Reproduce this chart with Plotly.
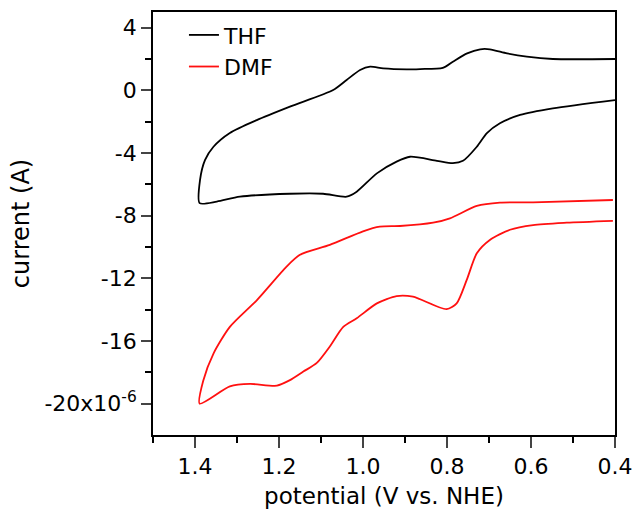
import plotly.graph_objects as go

# THF (black) - potential (V vs NHE), current (uA)
thf_x = [0.40, 0.548, 0.61, 0.657, 0.698, 0.721, 0.752, 0.786, 0.81, 0.864, 0.896, 0.952, 0.983, 1.007, 1.039, 1.071,
         1.174, 1.253, 1.317, 1.356, 1.376, 1.388, 1.389,
         1.348, 1.293, 1.174, 1.095, 1.039, 1.015, 0.967, 0.92, 0.888, 0.824, 0.786, 0.762, 0.729, 0.705, 0.674, 0.626, 0.548, 0.40]
thf_y = [2.0, 2.0, 2.15, 2.36, 2.62, 2.62, 2.36, 1.83, 1.43, 1.36, 1.34, 1.4, 1.51, 1.3, 0.66, 0.02,
         -1.04, -1.9, -2.72, -3.6, -4.44, -5.72, -7.2,
         -7.1, -6.79, -6.6, -6.6, -6.79, -6.47, -5.3, -4.55, -4.24, -4.5, -4.65, -4.5, -3.6, -2.73, -2.1, -1.57, -1.15, -0.62]

# DMF (red)
dmf_x = [0.405, 0.595, 0.674, 0.729, 0.793, 0.833, 0.912, 0.96, 1.0, 1.079, 1.15, 1.182, 1.253, 1.317, 1.356, 1.38, 1.389,
         1.317, 1.269, 1.205, 1.174, 1.142, 1.11, 1.079, 1.047, 1.015, 0.967, 0.92, 0.881, 0.801, 0.777, 0.753, 0.729, 0.698, 0.65, 0.595, 0.515, 0.405]
dmf_y = [-7.0, -7.15, -7.17, -7.38, -8.17, -8.45, -8.66, -8.7, -9.0, -9.87, -10.5, -11.25, -13.4, -15.1, -16.8, -18.5, -20.0,
         -18.9, -18.74, -18.85, -18.5, -17.95, -17.4, -16.35, -15.1, -14.55, -13.6, -13.13, -13.17, -13.97, -13.6, -12.1, -10.4, -9.55, -8.9, -8.6, -8.45, -8.33]

y_tickvals = [4, 0, -4, -8, -12, -16, -20]
y_ticktext = ["4", "0", "-4", "-8", "-12", "-16", "-20x10<sup>-6</sup>"]
x_tickvals = [1.4, 1.2, 1.0, 0.8, 0.6, 0.4]
x_ticktext = ["1.4", "1.2", "1.0", "0.8", "0.6", "0.4"]

FONT = "DejaVu Sans"

fig = go.Figure()
fig.add_trace(go.Scatter(x=thf_x, y=thf_y, mode="lines", name="THF", legendgroup="a",
                         line=dict(color="black", width=1.8, shape="spline", smoothing=0.7)))
fig.add_trace(go.Scatter(x=dmf_x, y=dmf_y, mode="lines", name="DMF", legendgroup="b",
                         line=dict(color="#ff1010", width=1.8, shape="spline", smoothing=0.7)))

fig.update_layout(
    width=639, height=516,
    margin=dict(l=153, r=24, t=12, b=81, autoexpand=False),
    paper_bgcolor="white", plot_bgcolor="white",
    font=dict(family=FONT, size=22, color="black"),
    showlegend=True,
    legend=dict(x=0.067, y=0.995, xanchor="left", yanchor="top", bgcolor="rgba(0,0,0,0)",
                font=dict(size=22), tracegroupgap=0),
    xaxis=dict(range=[1.5, 0.4], tickmode="array", tickvals=x_tickvals, ticktext=x_ticktext, automargin=False,
               ticks="outside", ticklen=11, tickwidth=1.5, showline=True, linewidth=1.8, linecolor="black",
               mirror=True, showgrid=False, zeroline=False,
               minor=dict(tickmode="array", tickvals=[1.5, 1.3, 1.1, 0.9, 0.7, 0.5], ticks="outside", ticklen=6, tickwidth=1.5, tickcolor="black", showgrid=False),
               title=dict(text="potential (V vs. NHE)", font=dict(size=23), standoff=10),
               tickfont=dict(size=22)),
    yaxis=dict(range=[-22, 5], tickmode="array", tickvals=y_tickvals, ticktext=y_ticktext, automargin=False,
               ticks="outside", ticklen=10, tickwidth=1.5, showline=True, linewidth=1.8, linecolor="black",
               mirror=True, showgrid=False, zeroline=False,
               minor=dict(tickmode="array", tickvals=[2, -2, -6, -10, -14, -18], ticks="outside", ticklen=6, tickwidth=1.5, tickcolor="black", showgrid=False),
               title=dict(text="current (A)", font=dict(size=24), standoff=8),
               tickfont=dict(size=22)),
)

fig.write_html("out.html")
